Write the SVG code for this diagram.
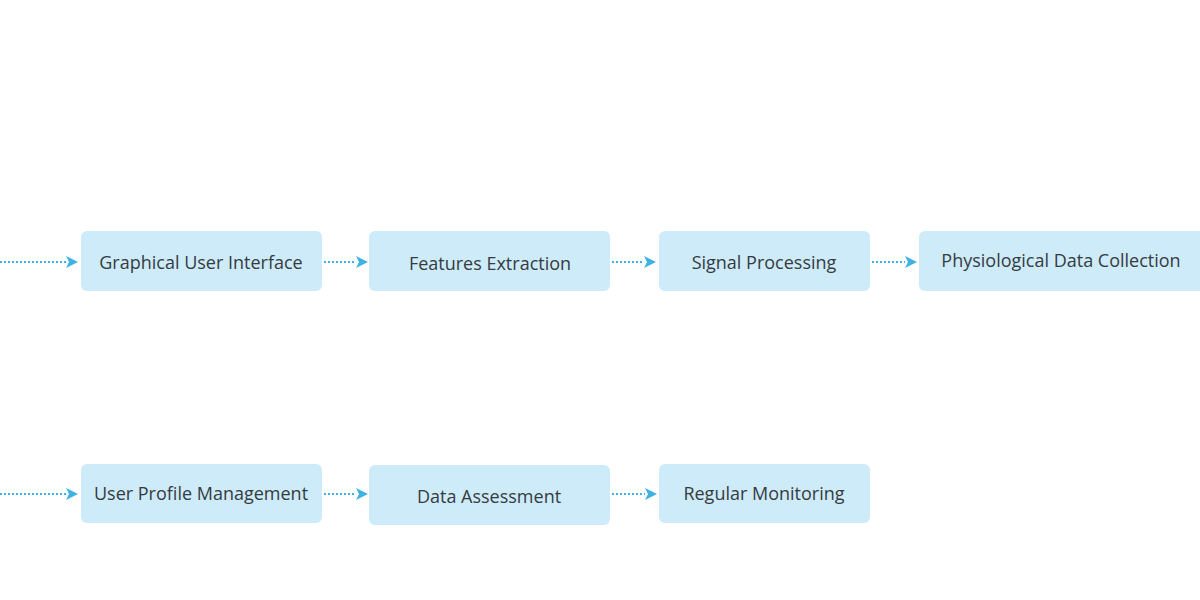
<svg xmlns="http://www.w3.org/2000/svg" width="1200" height="600" viewBox="0 0 1200 600">
<defs>
<style>
.box{fill:#cdebf9;}
.lbl{font-family:"Open Sans","Liberation Sans",sans-serif;font-size:18px;fill:#363b41;text-anchor:middle;dominant-baseline:central;}
.conn{stroke:#3fb1e3;stroke-width:2;stroke-dasharray:2 2;fill:none;}
.head{fill:#3fb1e3;}
</style>
<marker id="ah" markerWidth="12" markerHeight="12" refX="0" refY="6" orient="auto" markerUnits="userSpaceOnUse">
<path d="M0,0 L12,6 L0,12 L3,6 Z" class="head"/>
</marker>
</defs>
<rect width="1200" height="600" fill="#ffffff"/>
<g id="connectors">
<line class="conn" x1="0" y1="262" x2="66" y2="262" marker-end="url(#ah)"/>
<line class="conn" x1="324" y1="262" x2="356" y2="262" marker-end="url(#ah)"/>
<line class="conn" x1="612" y1="262" x2="644" y2="262" marker-end="url(#ah)"/>
<line class="conn" x1="872" y1="262" x2="905" y2="262" marker-end="url(#ah)"/>
<line class="conn" x1="0" y1="494" x2="66" y2="494" marker-end="url(#ah)"/>
<line class="conn" x1="324" y1="494" x2="356" y2="494" marker-end="url(#ah)"/>
<line class="conn" x1="612" y1="494" x2="645" y2="494" marker-end="url(#ah)"/>
</g>
<g id="n-gui"><rect class="box" x="81" y="231" width="241" height="60" rx="6"/><text class="lbl" x="201" y="262">Graphical User Interface</text></g>
<g id="n-features"><rect class="box" x="369" y="231" width="241" height="60" rx="6"/><text class="lbl" x="490" y="263">Features Extraction</text></g>
<g id="n-signal"><rect class="box" x="659" y="231" width="211" height="60" rx="6"/><text class="lbl" x="764" y="262">Signal Processing</text></g>
<g id="n-physio"><rect class="box" x="919" y="231" width="290" height="60" rx="6"/><text class="lbl" x="1061" y="260">Physiological Data Collection</text></g>
<g id="n-profile"><rect class="box" x="81" y="464" width="241" height="59" rx="6"/><text class="lbl" x="201" y="493">User Profile Management</text></g>
<g id="n-assess"><rect class="box" x="369" y="465" width="241" height="60" rx="6"/><text class="lbl" x="489" y="496">Data Assessment</text></g>
<g id="n-monitor"><rect class="box" x="659" y="464" width="211" height="59" rx="6"/><text class="lbl" x="764" y="493">Regular Monitoring</text></g>
</svg>
